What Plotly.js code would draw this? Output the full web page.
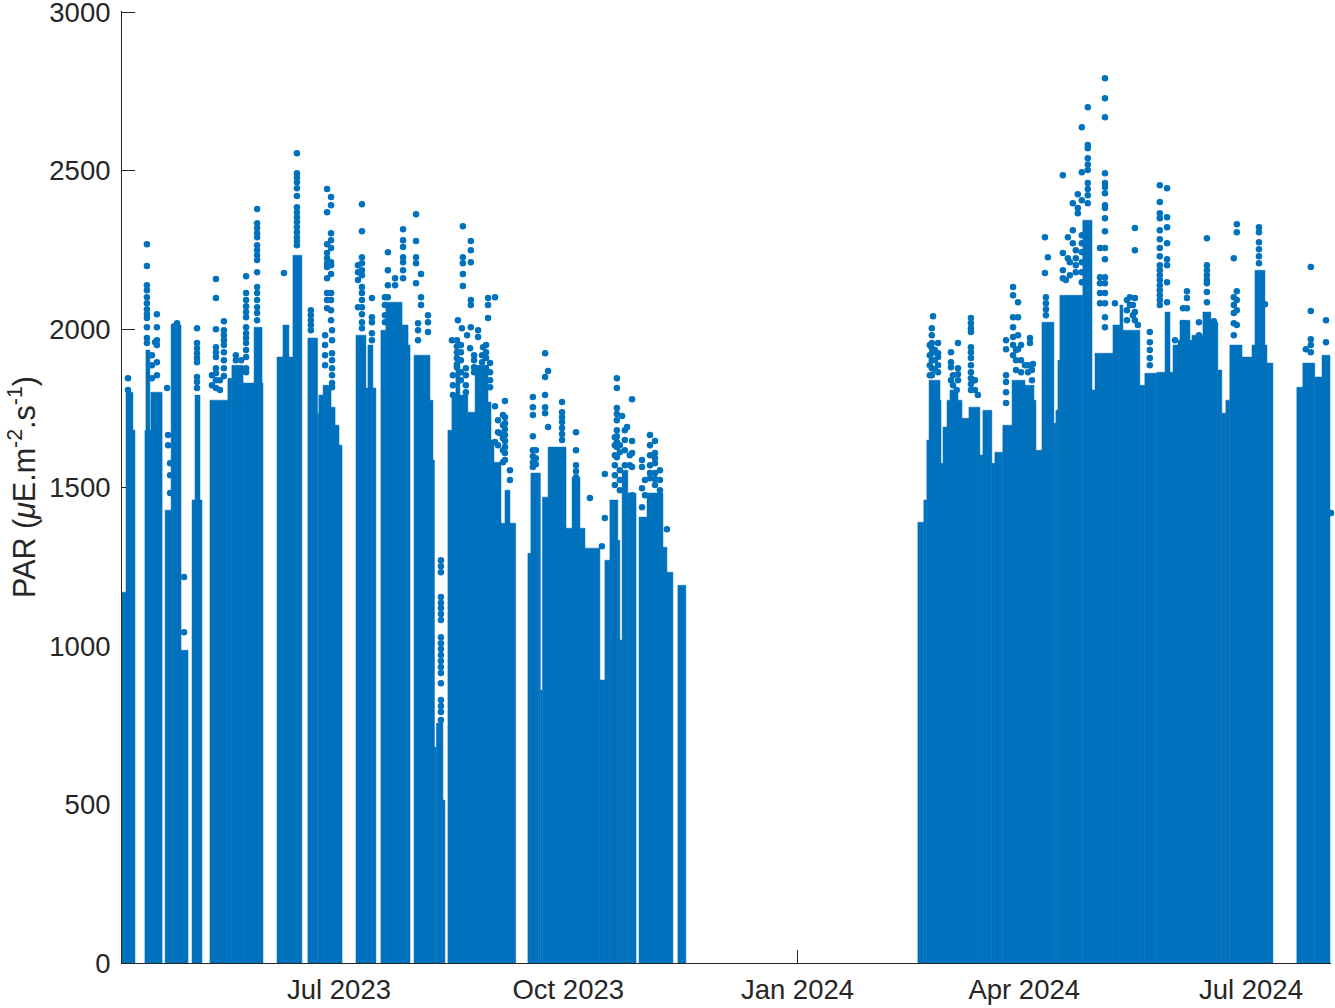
<!DOCTYPE html>
<html>
<head>
<meta charset="utf-8">
<script src="https://cdn.plot.ly/plotly-3.0.1.min.js"></script>
<style>html,body{margin:0;padding:0;background:#fff}#chart{width:1335px;height:1008px}</style>
</head>
<body>
<div id="chart"></div>
<script>
// Days counted from the left end of the time axis
const axisStart = '2023-04-04T22:00:00Z';
const axisEnd = '2024-08-02T03:00:00Z';
const xTickDates = ['2023-07-01', '2023-10-01', '2024-01-01', '2024-04-01', '2024-07-01'];
const xTickLabels = ['Jul 2023', 'Oct 2023', 'Jan 2024', 'Apr 2024', 'Jul 2024'];
const yTicks = [0, 500, 1000, 1500, 2000, 2500, 3000];

// Dense body of the cloud: spans of days and the level up to which readings fill the column
const blockStart = [-0.8,1.6,4.4,9.2,9.6,11.6,17.3,19.7,23.7,28.1,29.3,31.3,35.3,42.5,44.1,48.6,53,56.2,
  62.2,64.6,67,68.6,74.6,78.5,79,80.7,83.9,85.5,87.1,93.9,97.9,98.7,100.7,103.9,105.9,112.4,114.8,
  117.2,123.6,124.8,125.4,126.2,128.8,130.8,132.8,132.4,134,138.8,142.5,141.7,148.1,149.3,152.1,153.7,
  162.9,164.1,167.3,167.9,168.7,171,178.2,180.6,183.8,185.8,191.8,193.8,195.8,199,199.8,200.7,203,
  207.5,210.7,217.1,218.7,223.1,
  319.4,321.8,323,323.9,328.3,328.7,329.5,331.1,332.3,335.5,337.1,339.9,344.3,345.5,349.1,350.3,353.5,
  357.2,362.4,366,366.8,369.2,374,374.8,375.6,376.4,385.6,389.3,390.5,396.5,397.7,400.5,401.7,408.5,
  410.5,415.3,418.6,420.6,421.8,423.8,424.6,429.4,433.8,437,439.8,441.4,443,444.6,449.5,453.5,454.7,
  459.5,471.5,473.9,478.7,481.6];
const blockEnd = [1.6,4.4,5.2,11.6,11.2,16.1,19.7,23.7,26.5,29.3,31.3,32.1,42.5,44.1,48.6,53,56.2,56.6,
  64.6,67,68.6,72.2,78.5,79,80.7,83.9,85.5,87.1,88.3,97.9,98.7,100.7,101.9,105.9,112.4,114.8,115.6,
  123.6,124.8,125.4,126.2,128.8,129.6,132.8,138.8,138.8,135.6,142.5,148.1,146.9,149.3,152.1,158,155.7,
  164.1,167.3,167.9,168.7,171,178.2,180.6,183.8,185.8,191.8,193.8,195.8,199,199.8,200.7,203,206.3,
  210.7,217.1,218.7,221.1,226.3,
  321.8,323,323.9,328.3,328.7,329.5,331.1,332.3,335.5,337.1,339.9,344.3,345.5,349.1,350.3,353.5,357.2,
  362.4,366,366.8,369.2,374,374.8,375.6,376.4,385.6,389.3,390.5,396.5,397.7,400.5,401.7,408.5,410.5,
  415.3,418.6,420.6,421.8,423.8,429.4,428.6,433.8,437,439.8,441.4,443,444.6,449.5,453.5,459.5,458.7,
  461.9,473.9,478.7,481.6,484.8];
const blockTop = [1170,1801,1681,1681,1934,1801,1429,2013,987,1461,1792,1461,1776,1845,1886,1830,2006,1830,
  1912,2013,1912,2233,1972,1735,1792,1823,1754,1697,1634,1981,1814,1950,1814,1997,2085,2013,1950,
  1918,1776,1587,681,757,514,1681,1713,1792,1886,1738,1770,1886,1650,1580,1388,1492,
  1293,1546,1546,861,1470,1628,1372,1533,1372,1309,893,1271,1461,1334,1019,1555,1483,
  1407,1483,1312,1233,1192,
  1391,1461,1650,1839,1776,1577,1691,1776,1808,1776,1719,1754,1603,1744,1577,1612,1697,
  1839,1823,1776,1618,2022,1703,1744,1902,2107,2344,1808,1924,1924,2013,2076,1997,1823,
  1861,1864,2054,1864,1950,1965,2028,1981,2054,2022,1871,1735,1776,1950,1912,1950,2186,
  1893,1817,1893,1849,1918];
const blockBase = -10;

// Separate readings above the dense body, grouped by the day column they sit in
const readingDays = [2.4,10,14,13.3,12,18.1,18.5,19.3,22.1,20.9,24.9,30.1,37.7,40.9,45.7,47.8,49.8,54.2,65,70.2,
  75.8,82.3,83.9,84.3,81.5,96.3,94.7,100.3,106.7,109.6,112.8,118,120,122.8,118.8,128,
  136.8,140,146.9,149.7,134.8,136.4,138.5,142.9,132.4,134.4,144.9,139.7,153.7,151.7,
  164.9,169.8,171,176.6,182.2,187.8,193.8,192.6,198.6,204.7,202.7,200.7,208.7,213.9,211.9,218.7,
  325.5,325,327.5,332.7,335.5,340.7,354.8,357.6,359.6,364.4,365.6,362.4,370.4,371.6,370.8,377.6,379.6,381.6,383.6,385.2,387.6,
  394.5,392.5,398.5,382.8,380.4,378.8,404.5,406.5,416.5,419.4,412.5,427.4,425.8,432.2,435.4,438.2,422.6,
  446.2,447.4,456.3,458.7,477.1,475.1,483.2,485.2,
  132.8,136,138,141.3,144.5,146.1,147.7,150.9,152.9,155.7,166.1,197.8,199.8,201.8,203.8,211.9,215.9,209.9,
  36.1,39.3,105.5,324.2,326.2,333.5,335,342.3,343.5,358.8,360.8,363.6,365.2,403.3,405.7,407.7,431.4];
const readingPar = [
  [1845,1808],
  [2268,2199,2139,2123,2101,2082,2063,2047,2035,2006,1972,1956],
  [2047,2006,1965,1950,1896,1855],
  [1959],
  [1918,1886,1845],
  [1814],
  [1666,1634],
  [1577,1539,1483],
  [2019],
  [2009],
  [1218,1044],
  [2003,1956,1940,1924,1909,1896,1849,1833,1814],
  [2158,2098,2000,1943,1927,1912,1877,1861,1839,1814],
  [2025,1997,1981,1965,1950,1927,1902,1877,1852],
  [1918,1902],
  [1902],
  [2167,2114,2092,2072,2054,2038,2006,1987,1972,1956,1934,1912,1877,1864],
  [2379,2334,2319,2303,2290,2265,2249,2233,2218,2180,2133,2114,2092,2069,2051,2028],
  [2177],
  [2555,2492,2479,2464,2445,2420,2385,2369,2353,2338,2322,2306,2290,2278,2265],
  [2060,2044,2028,2013,1997],
  [2442,2369,2268,2240,2224,2208,2196,2161,2114,2092,2066],
  [2417,2391,2303,2281,2256,2211,2202,2174,2114,2092,2060,2028],
  [1997,1965,1924,1902,1877,1855,1830,1817],
  [1981,1950,1918,1886],
  [2394,2309,2227,2208,2186,2170,2133,2114,2092,2069,2047,2022,2003],
  [2202,2180,2155,2069],
  [2098,2038,2022,1987,1965],
  [2243,2186,2139,2101],
  [2161,2139],
  [2315,2281,2259,2227,2211,2186,2161],
  [2363,2278,2227,2208,2145],
  [2174,2101,2076],
  [2044,2022,1991],
  [2019,1997,1965],
  [1271,1252,1233,1155,1136,1120,1101,1082,1028,1009,991,972,953,934,915,883,830,811,792,767],
  [2325,2227,2208,2174,2136],
  [2278,2249,2211,2092,2076,2006],
  [2098,2076,2035],
  [2101,1757,1644],
  [2028],
  [2003],
  [1981],
  [1997,1975],
  [1965],
  [1965,1946,1927,1909,1889,1880],
  [1943],
  [1940],
  [1773,1722,1703,1685,1666,1647,1628,1609,1587],
  [1672],
  [1786,1754,1729,1662,1618,1599,1580,1565],
  [1924,1849,1792,1754,1735],
  [1868,1691],
  [1770,1738,1722,1707,1688,1669,1650],
  [1675,1618,1571,1552,1533,1514],
  [1467],
  [1543,1404],
  [1315],
  [1845,1814,1751,1732,1713,1681,1662,1644,1628,1596],
  [1779,1647,1609,1565,1476],
  [1691],
  [1726],
  [1587,1565,1498,1438],
  [1647,1609,1593,1577,1546,1527,1508],
  [1546],
  [1369],
  [2041],
  [2003,1981,1956,1940,1924,1902,1877,1855],
  [1956,1924,1912,1886,1864],
  [1927,1896,1880,1839],
  [1956,1877,1858,1839],
  [2035,2019,2003,1991,1943,1927,1909,1886,1864,1845,1827,1808],
  [1965,1937,1855,1833,1801,1767],
  [2133,2107,2038,2006,1975,1950,1918],
  [2085,2038,1981,1937],
  [1972,1956],
  [1890],
  [1886],
  [2290,2177],
  [2227],
  [2101,2082,2063,2044],
  [2486,2240,2186,2161],
  [2290,2224],
  [2312,2271,2397],
  [2426,2382,2366],
  [2637,2495,2407,2296,2271,2243,2211,2180,2148],
  [2700,2581,2571,2539,2520,2502,2461,2442,2423,2397],
  [2792,2729,2669,2492,2461,2449,2429,2391,2382,2350,2309,2256,2221,2164,2145,2114,2082,2038,2006],
  [2256,2164,2145,2114,2082],
  [2082],
  [2249,2224,2202,2180],
  [2211,2170],
  [2155],
  [2101,2076],
  [2319,2249,2098,2054,2028],
  [2454,2401,2366,2350,2312,2284,2256,2230,2202,2186,2170,2155,2139,2123,2107,2092,2076],
  [2445,2353,2322,2271,2221,2202,2148,2085],
  [1991,1959,1934,1909,1886],
  [2120,2098,2066],
  [2066,2019],
  [2022,1981],
  [2287,2202,2186,2170,2155,2145,2117,2085],
  [2025],
  [1965],
  [2224,2101,2076,2051,2019,1981],
  [2331,2306,2120,2092,2060,2013],
  [2322,2306,2274,2252,2230,2208],
  [2079],
  [2196,2057,1968,1950,1927],
  [1937],
  [2028,1959],
  [1420],
  [1855,1823,1792],
  [1950,1927,1902,1864,1839],
  [1877,1855,1823,1801],
  [1918,1902,1880,1864],
  [1918,1896,1871],
  [1950,1927,1909,1877],
  [1893,1864,1839,1817],
  [1713,1675,1634],
  [1729,1697,1656,1618,1580],
  [1555,1524],
  [1618,1593,1574],
  [1659,1634,1602,1571,1539,1508],
  [1634,1612,1555,1524,1492],
  [1681,1650,1618,1571,1524],
  [1602,1571],
  [1666,1634,1602,1571,1530],
  [1555,1524,1492],
  [1524,1476],
  [1855,1823],
  [1839,1808],
  [2101,2076,2044,2022],
  [1950,1918,1886,1855],
  [1934,1902,1871],
  [1855,1823,1792],
  [1808],
  [1839,1808],
  [1792],
  [1934,1902,1871],
  [1950,1902,1864],
  [1886,1864],
  [1871,1839],
  [2092,2060,2028],
  [2076,2044],
  [2013],
  [1965,1934]
];

const BLUE = '#0071BC', INK = '#262626';
const FONT = '"Liberation Sans", Arial, sans-serif';
const t0 = Date.parse(axisStart);
const toDate = d => new Date(t0 + d * 864e5).toISOString();

const barX = blockStart.map((s, i) => toDate((s + blockEnd[i]) / 2));
const barW = blockStart.map((s, i) => (blockEnd[i] - s) * 864e5);
const barH = blockTop.map(v => v - blockBase);

const ptX = [], ptY = [];
readingDays.forEach((d, i) => readingPar[i].forEach(v => { ptX.push(toDate(d)); ptY.push(v); }));

const traces = [
  { type: 'bar', x: barX, y: barH, base: blockBase, width: barW, cliponaxis: false,
    marker: { color: BLUE, line: { width: 0.5, color: BLUE } }, hoverinfo: 'skip' },
  { type: 'scatter', mode: 'markers', x: ptX, y: ptY, cliponaxis: false,
    marker: { color: BLUE, size: 6.5, line: { width: 0 } }, hoverinfo: 'skip' }
];

const axisCommon = {
  showgrid: false, zeroline: false, showline: true, linecolor: INK, linewidth: 1,
  ticks: 'inside', ticklen: 13, tickwidth: 1, tickcolor: INK, layer: 'below traces',
  ticklabeloverflow: 'allow',
  tickfont: { family: FONT, size: 27.5, color: INK }
};

const layout = {
  width: 1335, height: 1008,
  margin: { l: 122, r: 4, t: 10.73, b: 45, pad: 0 },
  paper_bgcolor: '#fff', plot_bgcolor: '#fff',
  showlegend: false, barmode: 'overlay', hovermode: false,
  xaxis: Object.assign({}, axisCommon, {
    type: 'date', range: [axisStart.replace('T', ' ').replace(':00Z', ''), axisEnd.replace('T', ' ').replace(':00Z', '')],
    tickmode: 'array', tickvals: xTickDates, ticktext: xTickLabels, tickangle: 0, ticklabelstandoff: 2
  }),
  yaxis: Object.assign({}, axisCommon, {
    range: [0, 3004], tickmode: 'array', tickvals: yTicks, ticktext: yTicks.map(String), ticklabelstandoff: 5,
    title: { text: 'PAR (<i>μ</i>E.m<sup>-2</sup>.s<sup>-1</sup>)', font: { family: FONT, size: 30.5, color: INK }, standoff: 4 }
  })
};

Plotly.newPlot('chart', traces, layout, { displayModeBar: false, staticPlot: true });
</script>
</body>
</html>
